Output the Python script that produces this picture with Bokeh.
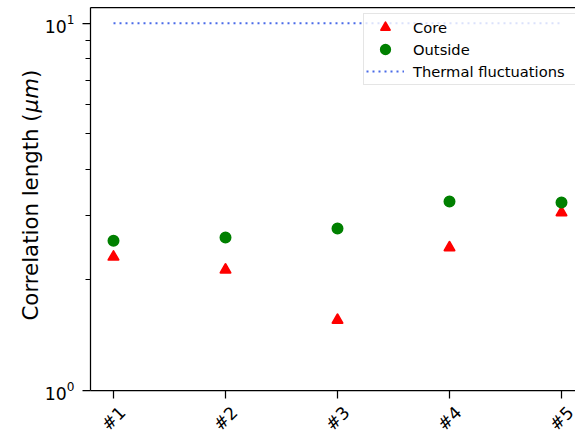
import math
from bokeh.plotting import figure
from bokeh.models import (Range1d, FixedTicker, LinearAxis, Label, Legend, LegendItem)
from bokeh.embed import file_html
from bokeh.resources import INLINE

# ---- data ----
samples = ["#1", "#2", "#3", "#4", "#5"]
core = [2.31, 2.13, 1.555, 2.45, 3.05]
outside = [2.555, 2.61, 2.76, 3.27, 3.25]
thermal = 10.0
y_major = [1, 10]
y_minor = [2, 3, 4, 5, 6, 7, 8, 9]

xpos = list(range(len(samples)))
FONT = "DejaVu Sans"

# frame covers whole canvas; axes are pinned inside it
X0, X1 = -1.00893, 4.125          # canvas x extent in category-index units
Y0, Y1 = 0.7493, 11.53            # canvas y extent (log)
XL, XR = -0.20536, 4.125          # plot box left / right
YB, YT = 1.0, 11.014              # plot box bottom / top

p = figure(width=575, height=436, y_axis_type="log",
           x_range=Range1d(X0, X1), y_range=Range1d(Y0, Y1),
           output_backend="svg", toolbar_location=None,
           min_border_left=0, min_border_right=0, min_border_top=0, min_border_bottom=0)
p.outline_line_color = None
p.xgrid.visible = False
p.ygrid.visible = False
p.background_fill_color = "white"
p.border_fill_color = "white"

# top spine
top = LinearAxis(ticker=FixedTicker(ticks=[]), major_tick_out=0, major_tick_in=0,
                 minor_tick_out=0, minor_tick_in=0, major_label_standoff=0,
                 major_label_text_font_size="0px", axis_line_width=1.25,
                 axis_line_color="black", fixed_location=YT, bounds=(XL, XR))
p.add_layout(top, "above")

# y axis
ya = p.left[0]
ya.fixed_location = XL
ya.bounds = (YB, YT)
ya.ticker = FixedTicker(ticks=y_major, minor_ticks=y_minor)
ya.axis_line_width = 1.25
ya.axis_line_color = "black"
ya.major_tick_out = 8
ya.major_tick_in = 0
ya.minor_tick_out = 5
ya.minor_tick_in = 0
ya.major_tick_line_width = 1.25
ya.minor_tick_line_width = 1.0
ya.major_label_standoff = 8
ya.major_label_text_font = FONT
ya.major_label_text_font_size = "17.3px"
ya.major_label_text_color = "black"

# x axis
xa = p.below[0]
xa.fixed_location = YB
xa.bounds = (XL, XR)
xa.ticker = FixedTicker(ticks=xpos)
xa.major_label_overrides = {i: "" for i in xpos}
xa.axis_line_width = 1.25
xa.axis_line_color = "black"
xa.major_tick_out = 8
xa.major_tick_in = 0
xa.minor_tick_out = 0
xa.minor_tick_in = 0
xa.major_tick_line_width = 1.25

# data
r_core = p.scatter(xpos, core, marker="triangle", size=10, fill_color="#ff0000",
                   line_color="#ff0000", line_width=2, line_join="round")
r_out = p.scatter(xpos, outside, marker="circle", size=9.5, fill_color="#008000",
                  line_color="#008000", line_width=2.5)
r_th = p.line([xpos[0], xpos[-1]], [thermal, thermal], line_color="#4a6be8",
              line_width=2, line_dash="2 4")

# rotated x tick labels
for i, s in zip(xpos, samples):
    p.add_layout(Label(x=i, y=18, x_units="data", y_units="screen", text=s,
                       angle=math.pi / 4, text_align="center", text_baseline="middle",
                       text_font=FONT, text_font_size="17.3px", text_color="black"))

# y axis label with italic unit
ylab = [("Correlation length (", "normal", 0.0), ("\u03bcm", "italic", 208.1), (")", "normal", 242.4)]
for t, st, off in ylab:
    p.add_layout(Label(x=29.5, y=116 + off, x_units="screen", y_units="screen", text=t,
                       angle=math.pi / 2, text_align="left", text_baseline="alphabetic",
                       text_font=FONT, text_font_size="21.3px", text_font_style=st,
                       text_color="black"))

legend = Legend(items=[LegendItem(label="Core", renderers=[r_core]),
                       LegendItem(label="Outside", renderers=[r_out]),
                       LegendItem(label="Thermal fluctuations", renderers=[r_th])],
                location=(363, 351), margin=0, padding=2, spacing=0,
                glyph_width=38, glyph_height=22, label_height=22, label_width=160,
                label_standoff=9, label_text_font=FONT, label_text_font_size="14.7px",
                label_text_color="black", border_line_color="#cccccc", border_line_width=1,
                background_fill_color="white", background_fill_alpha=0.8)
p.add_layout(legend, "center")

open("out.html", "w").write(file_html(p, INLINE))
